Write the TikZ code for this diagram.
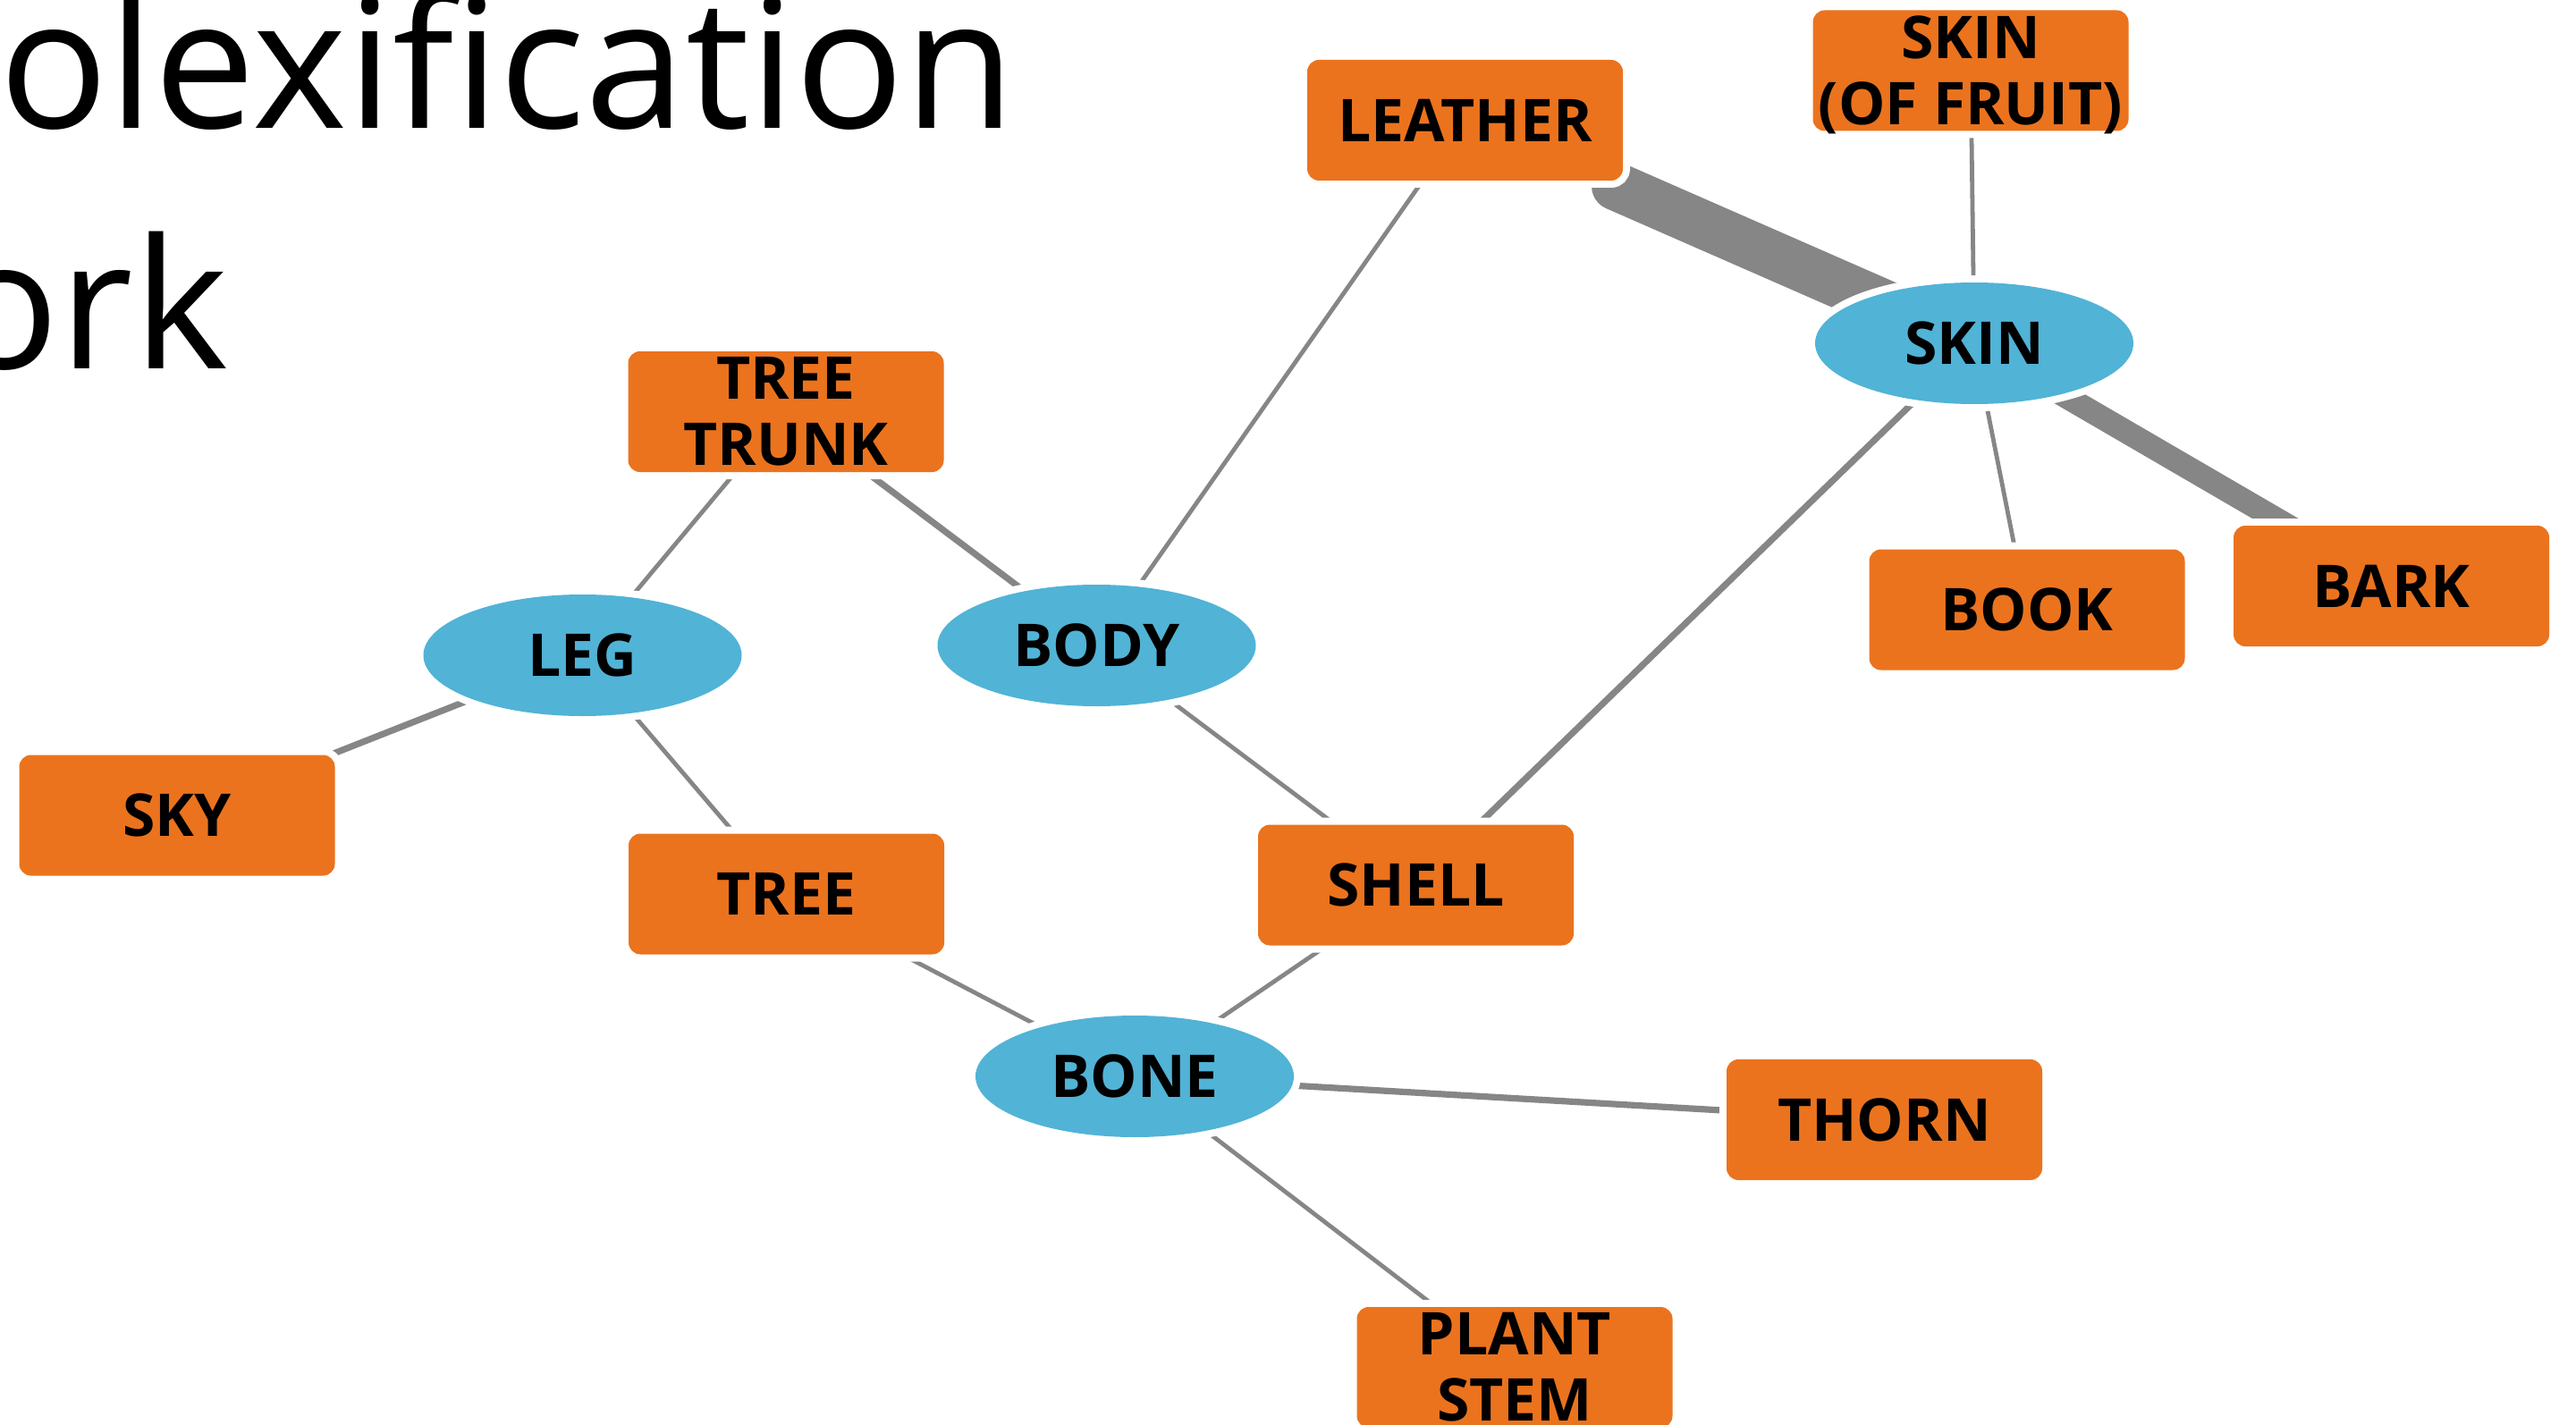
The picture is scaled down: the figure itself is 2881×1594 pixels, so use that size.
\documentclass[tikz,border=0pt]{standalone}
\usepackage{fontspec}
\setmainfont{Open Sans}
\usetikzlibrary{shapes.geometric,backgrounds}
\definecolor{boxorange}{RGB}{235,115,30}
\definecolor{nodeblue}{RGB}{81,179,214}
\definecolor{linkgray}{RGB}{134,134,134}
\begin{document}
\begin{tikzpicture}[x=0.25pt,y=-0.25pt,
  halo/.style={preaction={draw=white,line width=4pt}},
  labelfont/.style={font=\bfseries\fontsize{16.5}{18.5}\selectfont},
  term/.style={halo,rectangle,rounded corners=3.3pt,fill=boxorange,
    minimum width=88.25pt,minimum height=33.75pt,inner sep=0pt,align=center,labelfont},
  concept/.style={halo,ellipse,fill=nodeblue,
    minimum width=89pt,minimum height=34pt,inner sep=0pt,labelfont},
  link/.style={draw=linkgray,line width=1.2pt},
  boldlink/.style={draw=linkgray,line width=1.8pt},
  heavylink/.style={draw=linkgray,line cap=round},
  title/.style={anchor=base west,inner sep=0pt,font=\fontsize{50.5}{60}\selectfont}]

\useasboundingbox (0,0) rectangle (2881,1594);
\clip (0,0) rectangle (2881,1594);

% heading (runs off the left edge)
\node[title] (heading1) at (-1,144) {olexification};
\node[title] (heading2) at (-56,412) {ork};

% concepts and their word forms
\node[term] (leather) at (1638.5,134.5) {LEATHER};
\node[term] (fruitskin) at (2204,79) {SKIN\\\smash{(OF FRUIT)}};
\node[concept] (skin) at (2208,384) {SKIN};
\node[term] (book) at (2267,682) {BOOK};
\node[term] (bark) at (2674.5,655.5) {BARK};
\node[term] (trunk) at (879,460.5) {TREE\\TRUNK};
\node[concept] (leg) at (651.5,733) {LEG};
\node[concept] (body) at (1226.5,722) {BODY};
\node[term] (sky) at (198,912) {SKY};
\node[term] (tree) at (879.5,1000) {TREE};
\node[term] (shell) at (1583.5,990) {SHELL};
\node[concept] (bone) at (1269,1204) {BONE};
\node[term] (thorn) at (2107.5,1252.5) {THORN};
\node[term] (stem) at (1694,1529.5) {PLANT\\STEM};

% links, drawn beneath the nodes so the white halos trim their ends
\begin{pgfonlayer}{background}
  \draw[heavylink,line width=13.5pt,shorten <=46pt] (leather.center) -- (skin.center);
  \draw[heavylink,line width=6.5pt] (skin.center) -- (bark.center);
  \draw[link] (leather.center) -- (body.center);
  \draw[link] (fruitskin.center) -- (skin.center);
  \draw[boldlink] (skin.center) -- (shell.center);
  \draw[link] (skin.center) -- (book.center);
  \draw[link] (trunk.center) -- (leg.center);
  \draw[boldlink] (trunk.center) -- (body.center);
  \draw[boldlink] (leg.center) -- (sky.center);
  \draw[link] (leg.center) -- (tree.center);
  \draw[link] (body.center) -- (shell.center);
  \draw[link] (tree.center) -- (bone.center);
  \draw[link] (shell.center) -- (bone.center);
  \draw[boldlink] (bone.center) -- (thorn.center);
  \draw[link] (bone.center) -- (stem.center);
\end{pgfonlayer}
\end{tikzpicture}
\end{document}
